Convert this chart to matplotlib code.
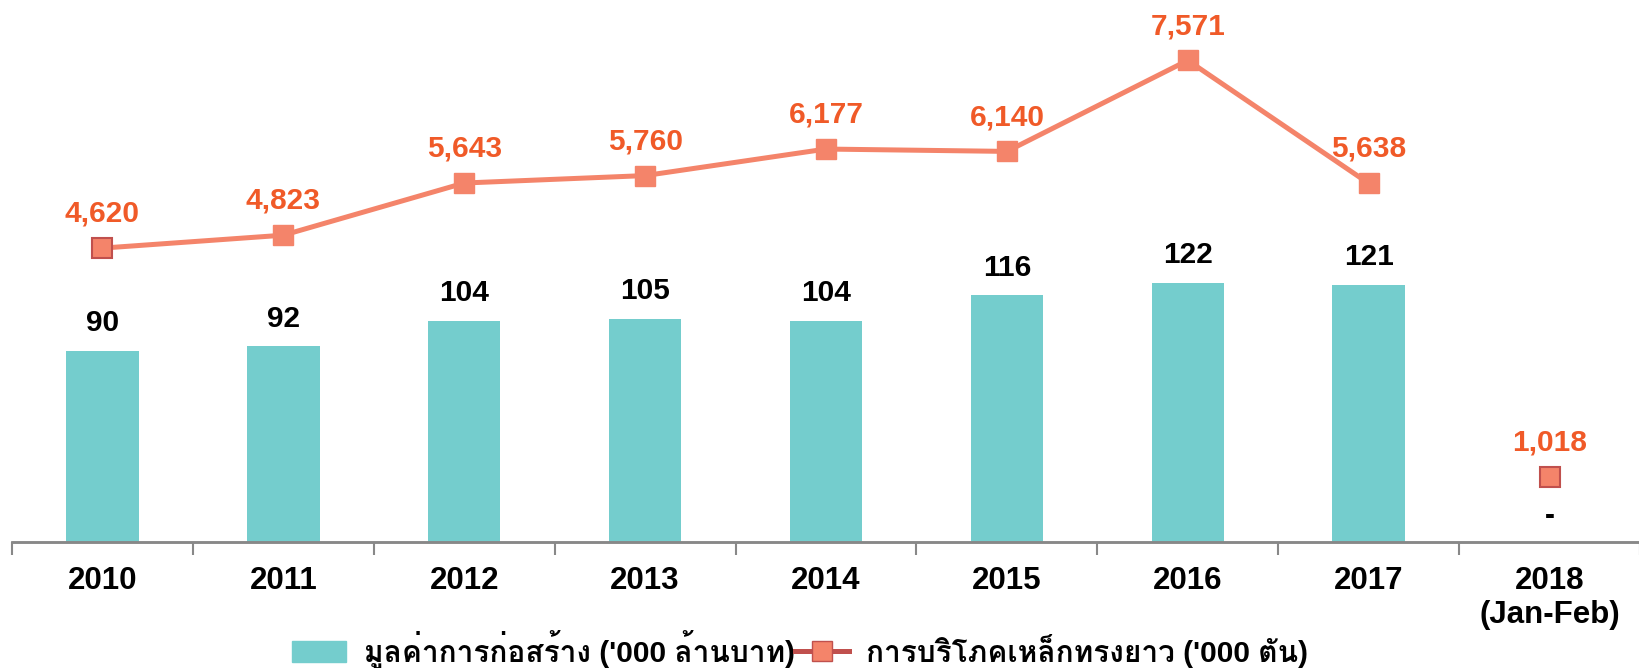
import matplotlib.pyplot as plt
from matplotlib import font_manager
from matplotlib.ft2font import FT2Font
from matplotlib.lines import Line2D
from matplotlib.patches import Patch

years = ["2010", "2011", "2012", "2013", "2014", "2015", "2016", "2017", "2018\n(Jan-Feb)"]
construction = [90, 92, 104, 105, 104, 116, 122, 121, None]
steel = [4620, 4823, 5643, 5760, 6177, 6140, 7571, 5638, 1018]

bar_label = "มูลค่าการก่อสร้าง ('000 ล้านบาท)"
line_label = "การบริโภคเหล็กทรงยาว ('000 ตัน)"

# find some installed font that has Thai glyphs
thai_font = None
for f in font_manager.fontManager.ttflist:
    try:
        if ord("ม") in FT2Font(f.fname).get_charmap():
            thai_font = f.name
            break
    except Exception:
        pass
fams = ["Liberation Sans"] + ([thai_font] if thai_font else []) + ["DejaVu Sans"]
plt.rcParams["font.family"] = fams

teal = "#74CDCD"
salmon = "#F4846A"
dark = "#C0504D"
orange = "#F05A28"

fig = plt.figure(figsize=(16.4, 6.68), dpi=100)
ax = fig.add_axes([12 / 1640, 126 / 668, 1 - 12 / 1640, 542 / 668])
ax2 = ax.twinx()

x = list(range(len(years)))
bx = [i for i in x if construction[i] is not None]
bv = [construction[i] for i in bx]
ax.bar(bx, bv, width=0.4, color=teal, zorder=2)
for i, v in zip(bx, bv):
    ax.text(i, v + 13, str(v), ha="center", va="center", fontsize=21.5,
            fontweight="bold", color="black")
ax.text(8, 12, "-", ha="center", va="center", fontsize=21.5, fontweight="bold")

ax2.plot(x[:8], steel[:8], color=salmon, lw=3.6, zorder=3)
ax2.plot(x[1:8], steel[1:8], ls="none", marker="s", ms=14, color=salmon,
         mec=salmon, zorder=4)
ax2.plot([0, 8], [steel[0], steel[8]], ls="none", marker="s", ms=14,
         color=salmon, mec=dark, mew=1.5, zorder=4)
for i, v in zip(x, steel):
    ax2.text(i, v + 540, f"{v:,}", ha="center", va="center", fontsize=21.5,
             fontweight="bold", color=orange)

ax.set_xlim(-0.5, 8.445)
ax.set_ylim(0, 255)
ax2.set_ylim(0, 8520)
ax.set_yticks([])
ax2.set_yticks([])
for a in (ax, ax2):
    for s in ["top", "right", "left"]:
        a.spines[s].set_visible(False)
    a.spines["bottom"].set_color("#888888")
    a.spines["bottom"].set_linewidth(1.8)

ax.set_xticks([i + 0.5 for i in range(-1, 9)], minor=True)
ax.set_xticks(x)
ax.set_xticklabels(years, fontsize=22.5, fontweight="bold", linespacing=1.2)
ax.tick_params(axis="x", which="major", length=0, pad=17)
ax.tick_params(axis="x", which="minor", length=9, width=1.5, color="#888888")

handles = [Patch(color=teal),
           Line2D([], [], color=dark, lw=3.6, marker="s", ms=14,
                  mfc=salmon, mec=dark)]
fig.legend(handles, [bar_label, line_label], loc="center",
           bbox_to_anchor=(0.488, 0.028), ncol=2, frameon=False,
           prop={"size": 21.5, "weight": "bold", "family": fams},
           handlelength=1.8, handletextpad=0.6, columnspacing=0.0)

fig.savefig("out.png", dpi=100)
